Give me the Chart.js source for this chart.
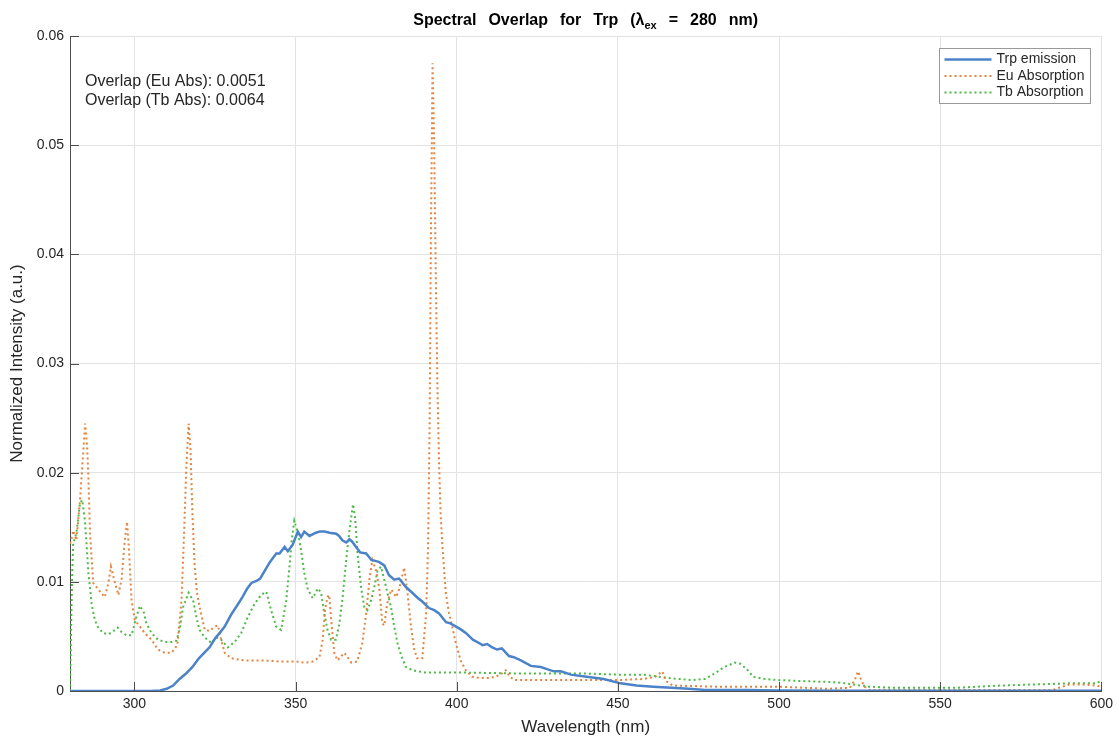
<!DOCTYPE html>
<html>
<head>
<meta charset="utf-8">
<title>Spectral Overlap for Trp</title>
<script src="https://cdn.jsdelivr.net/npm/chart.js@4.4.1/dist/chart.umd.min.js"></script>
<style>
  html, body { margin: 0; padding: 0; background: #fff; }
  #chart { display: block; }
</style>
</head>
<body>
<canvas id="chart" width="1118" height="740"></canvas>
<script>
// wavelength (nm) / normalized intensity
const trpWl = [280, 290, 300, 305, 308, 310, 312, 314, 316, 318, 320, 322, 323.3, 325, 326.4, 328, 330, 332, 333.5, 335, 336.3, 338, 339, 340, 342, 344, 345, 346.6, 347.6, 349.1, 350.7, 351.7, 352.7, 354.3, 356.3, 357.5, 359, 360.5, 362.6, 363.5, 364.5, 365.7, 366.7, 367.5, 369, 370, 371.9, 373.5, 375, 376, 377.5, 379, 380.6, 382.1, 384.3, 386.2, 388, 389.3, 391.4, 393, 394.5, 396.7, 398, 399.8, 401.5, 402.9, 405, 406.9, 408, 409.4, 411, 412.5, 414, 416.2, 417.7, 419.9, 423, 426.1, 428, 430.1, 432.3, 435.4, 440.3, 445.6, 450.8, 455.8, 461, 466.6, 472, 477, 490, 500, 520, 600];
const trpVals = [0, 0, 0, 0, 0.00005, 0.0002, 0.0005, 0.0011, 0.0016, 0.0022, 0.003, 0.0036, 0.004, 0.0048, 0.0053, 0.0059, 0.007, 0.0079, 0.0086, 0.0094, 0.0099, 0.0101, 0.0103, 0.0108, 0.0118, 0.0126, 0.0126, 0.0132, 0.0128, 0.0134, 0.0146, 0.0141, 0.0146, 0.0142, 0.0145, 0.0146, 0.0146, 0.0145, 0.0144, 0.0142, 0.0138, 0.0136, 0.0139, 0.0137, 0.0131, 0.0127, 0.0126, 0.012, 0.0119, 0.0118, 0.0115, 0.0106, 0.0102, 0.0103, 0.0095, 0.009, 0.0085, 0.0082, 0.0076, 0.0074, 0.0071, 0.0063, 0.0062, 0.0059, 0.0056, 0.0053, 0.0047, 0.0044, 0.0042, 0.0043, 0.004, 0.0038, 0.0039, 0.0032, 0.0031, 0.0028, 0.0023, 0.0022, 0.002, 0.0018, 0.0018, 0.0015, 0.0013, 0.0011, 0.0007, 0.0005, 0.0004, 0.0003, 0.0002, 0.0001, 0.0001, 0.00005, 0.00003, 0.00002];

const euWl = [280, 280.5, 281, 282, 283.1, 284.1, 284.7, 285.3, 285.7, 286.2, 287.2, 288.8, 290.8, 291.9, 292.7, 293.7, 295, 296, 297, 297.7, 298.3, 299.1, 300.1, 301.7, 303.2, 305.3, 307.3, 309.4, 311.5, 313.3, 314.6, 315.4, 316.1, 316.8, 317.4, 318, 318.7, 319.4, 320.2, 321.8, 323.3, 324.9, 325.9, 326.9, 328, 330, 334, 340, 345, 350, 353, 355.3, 357.4, 358.4, 359.1, 359.9, 360.4, 361.2, 362, 363, 365.1, 367.3, 369.1, 370.7, 371.9, 372.9, 373.8, 375, 376, 376.9, 377.5, 378.4, 379.7, 381.2, 382.1, 383.7, 384.6, 385.8, 386.8, 387.7, 389.3, 390.5, 391.1, 391.6, 392, 392.5, 393, 393.5, 394, 394.5, 395, 395.5, 396.1, 396.6, 397.6, 398.6, 399.7, 401.2, 402.8, 404.8, 406.9, 410, 412, 414, 415.2, 416.5, 418, 425, 440, 450, 458, 461.5, 463.8, 465, 467, 480, 500, 515, 522, 523.5, 524.5, 525.5, 526.5, 528, 585, 588, 590, 595, 598, 600];
const euVals = [0.0135, 0.014, 0.0147, 0.0138, 0.0175, 0.0218, 0.0245, 0.0225, 0.0196, 0.0145, 0.0099, 0.0093, 0.0086, 0.0099, 0.0114, 0.0102, 0.0088, 0.0102, 0.0138, 0.0155, 0.0129, 0.0083, 0.0065, 0.0059, 0.0053, 0.0047, 0.0038, 0.0035, 0.0035, 0.0042, 0.0083, 0.0145, 0.0205, 0.0245, 0.0221, 0.016, 0.0114, 0.009, 0.0077, 0.0056, 0.0055, 0.0059, 0.006, 0.0047, 0.0035, 0.003, 0.0028, 0.0028, 0.0027, 0.0027, 0.0026, 0.0027, 0.0031, 0.0047, 0.0074, 0.0086, 0.0088, 0.006, 0.0035, 0.0028, 0.0035, 0.0026, 0.0027, 0.0044, 0.0071, 0.0102, 0.012, 0.011, 0.0093, 0.0062, 0.006, 0.008, 0.0093, 0.0086, 0.0093, 0.0113, 0.0093, 0.0059, 0.0038, 0.003, 0.003, 0.0071, 0.0132, 0.025, 0.042, 0.0575, 0.05, 0.038, 0.028, 0.021, 0.0162, 0.0135, 0.011, 0.009, 0.0071, 0.0059, 0.0044, 0.0028, 0.0019, 0.0013, 0.0012, 0.0012, 0.0013, 0.0016, 0.0019, 0.0013, 0.001, 0.001, 0.001, 0.001, 0.0011, 0.0013, 0.0018, 0.0009, 0.0005, 0.0004, 0.0004, 0.0002, 0.0003, 0.001, 0.0018, 0.001, 0.0004, 0.0001, 0.0001, 0.0004, 0.0006, 0.0006, 0.0005, 0.0004];

const tbWl = [280, 280.3, 280.7, 281, 282, 283.1, 283.8, 284.6, 285.2, 285.7, 286.2, 286.7, 287.7, 288.8, 290.3, 291.9, 293.5, 294.8, 296, 297.5, 299.1, 300.6, 301.7, 302.9, 303.7, 305.3, 307.3, 309.4, 311.5, 313, 314, 315.1, 316.8, 318.2, 319.2, 320.2, 321.8, 323.9, 325.4, 326.9, 329, 331.1, 333.1, 335.2, 337.3, 339.3, 340.9, 342.4, 344, 345.5, 347.1, 348.1, 348.8, 349.6, 350.7, 351.7, 352.7, 353.8, 355.3, 356.9, 357.9, 358.9, 359.9, 361, 362.5, 363.6, 364.6, 365.6, 366.7, 367.8, 368.5, 369.2, 370.3, 371.3, 372.3, 373.4, 374.4, 375.4, 376.5, 377.5, 378.5, 379.6, 380.6, 381.6, 382.7, 384.2, 386.3, 390, 400, 420, 440, 450, 458, 465, 473, 477, 480, 483, 486.3, 488, 490, 492, 495.6, 500, 508, 518, 528, 535, 548, 555, 569, 590, 598, 600];
const tbVals = [0, 0.005, 0.011, 0.0135, 0.0145, 0.0172, 0.0175, 0.0157, 0.0132, 0.0108, 0.0095, 0.008, 0.0065, 0.0058, 0.0053, 0.0052, 0.0055, 0.0058, 0.0054, 0.0051, 0.0051, 0.0068, 0.0078, 0.0072, 0.0062, 0.0053, 0.0047, 0.0045, 0.0045, 0.0046, 0.0056, 0.0077, 0.009, 0.0083, 0.0068, 0.0056, 0.0049, 0.0044, 0.0049, 0.0047, 0.004, 0.0045, 0.0053, 0.0068, 0.008, 0.0088, 0.0091, 0.0074, 0.0059, 0.0056, 0.0083, 0.0114, 0.0138, 0.0156, 0.0145, 0.0129, 0.0108, 0.0093, 0.0085, 0.0094, 0.009, 0.0071, 0.0056, 0.0047, 0.0047, 0.0062, 0.0086, 0.0117, 0.0147, 0.0171, 0.0158, 0.0126, 0.0095, 0.0077, 0.0074, 0.0083, 0.0095, 0.011, 0.0114, 0.0102, 0.009, 0.0077, 0.0059, 0.0044, 0.0033, 0.0022, 0.0019, 0.0017, 0.0017, 0.0016, 0.0016, 0.0015, 0.0015, 0.0012, 0.001, 0.0011, 0.0016, 0.0022, 0.0026, 0.0025, 0.002, 0.0013, 0.0011, 0.001, 0.0009, 0.0008, 0.0004, 0.0003, 0.0003, 0.0003, 0.0005, 0.0007, 0.0007, 0.0009];

const seriesLabels = ['Trp emission', 'Eu Absorption', 'Tb Absorption'];
const overlapNotes = ['Overlap (Eu Abs): 0.0051', 'Overlap (Tb Abs): 0.0064'];
const yTicks = [0, 0.01, 0.02, 0.03, 0.04, 0.05, 0.06];

const textColor = '#262626';
const gridColor = '#e3e3e3';
const fontFamily = '"Liberation Sans", Arial, Helvetica, sans-serif';

function toPoints(xs, ys) {
    return xs.map((x, i) => ({ x: x, y: ys[i] }));
}

// title with subscript, MATLAB style wide word gaps
const titlePlugin = {
    id: 'titleWithSub',
    afterDraw(chart) {
        const c = chart.ctx;
        const area = chart.chartArea;
        const parts = [
            { t: 'Spectral', s: 16 }, { gap: 1 }, { t: 'Overlap', s: 16 }, { gap: 1 },
            { t: 'for', s: 16 }, { gap: 1 }, { t: 'Trp', s: 16 }, { gap: 1 },
            { t: '(\u03bb', s: 16 }, { t: 'ex', s: 11, sub: true }, { gap: 1 },
            { t: '=', s: 16 }, { gap: 1 }, { t: '280', s: 16 }, { gap: 1 }, { t: 'nm)', s: 16 }
        ];
        const gapW = 12;
        let total = 0;
        parts.forEach(p => {
            if (p.gap) { total += gapW; return; }
            c.font = 'bold ' + p.s + 'px ' + fontFamily;
            p.w = c.measureText(p.t).width;
            total += p.w;
        });
        let x = (area.left + area.right) / 2 - total / 2;
        const y = 21;
        c.save();
        c.fillStyle = '#000';
        c.textBaseline = 'middle';
        c.textAlign = 'left';
        parts.forEach(p => {
            if (p.gap) { x += gapW; return; }
            c.font = 'bold ' + p.s + 'px ' + fontFamily;
            c.fillText(p.t, x, p.sub ? y + 5 : y);
            x += p.w;
        });
        c.restore();
    }
};

// inward tick marks, legend box and overlap notes
const decorPlugin = {
    id: 'decor',
    afterDraw(chart) {
        const c = chart.ctx;
        const area = chart.chartArea;
        const xs = chart.scales.x;
        const ys = chart.scales.y;
        c.save();
        c.strokeStyle = '#4d4d4d';
        c.lineWidth = 1;
        xs.ticks.forEach(t => {
            const px = Math.round(xs.getPixelForValue(t.value)) + 0.5;
            c.beginPath();
            c.moveTo(px, area.bottom);
            c.lineTo(px, area.bottom - 9);
            c.stroke();
        });
        ys.ticks.forEach(t => {
            const py = Math.round(ys.getPixelForValue(t.value)) + 0.5;
            c.beginPath();
            c.moveTo(area.left, py);
            c.lineTo(area.left + 9, py);
            c.stroke();
        });

        // notes
        c.fillStyle = textColor;
        c.font = '16px ' + fontFamily;
        c.textBaseline = 'middle';
        c.textAlign = 'left';
        overlapNotes.forEach((s, i) => c.fillText(s, area.left + 15, 82 + i * 19));

        // legend
        const bx = 939.5, by = 48.5, bw = 151, bh = 55;
        c.fillStyle = '#fff';
        c.fillRect(bx, by, bw, bh);
        c.strokeStyle = '#9a9a9a';
        c.strokeRect(bx, by, bw, bh);
        c.font = '14px ' + fontFamily;
        chart.data.datasets.forEach((ds, i) => {
            const ly = by + 11 + i * 16.5;
            c.strokeStyle = ds.borderColor;
            c.lineWidth = ds.borderWidth;
            c.setLineDash(ds.borderDash || []);
            c.beginPath();
            c.moveTo(bx + 5, ly);
            c.lineTo(bx + 52, ly);
            c.stroke();
            c.setLineDash([]);
            c.fillStyle = textColor;
            c.fillText(ds.label, bx + 57, ly);
        });
        c.restore();
    }
};

const ctx = document.getElementById('chart').getContext('2d');
const myChart = new Chart(ctx, {
    type: 'line',
    data: {
        datasets: [
            {
                label: seriesLabels[0],
                data: toPoints(trpWl, trpVals),
                borderColor: '#4b82c8',
                borderWidth: 2.5,
                pointRadius: 0,
                tension: 0,
                order: 0
            },
            {
                label: seriesLabels[1],
                data: toPoints(euWl, euVals),
                borderColor: '#e3843f',
                borderWidth: 2,
                borderDash: [2, 3],
                pointRadius: 0,
                tension: 0,
                order: 1
            },
            {
                label: seriesLabels[2],
                data: toPoints(tbWl, tbVals),
                borderColor: '#4cbb45',
                borderWidth: 2,
                borderDash: [2, 3],
                pointRadius: 0,
                tension: 0,
                order: 2
            }
        ]
    },
    options: {
        responsive: false,
        animation: false,
        events: [],
        layout: { padding: { top: 36, right: 14, left: 0, bottom: 0 } },
        plugins: {
            legend: { display: false },
            title: { display: false },
            tooltip: { enabled: false }
        },
        scales: {
            x: {
                type: 'linear',
                min: 280,
                max: 600,
                ticks: {
                    stepSize: 50,
                    includeBounds: false,
                    padding: 5,
                    maxRotation: 0,
                    autoSkip: false,
                    color: textColor,
                    font: { size: 14, family: fontFamily }
                },
                grid: { color: gridColor, drawTicks: false },
                border: { color: '#4d4d4d' },
                title: {
                    display: true,
                    text: 'Wavelength (nm)',
                    color: textColor,
                    font: { size: 17, family: fontFamily },
                    padding: { top: 0, bottom: 2 }
                },
                afterFit: s => { s.height = 49; }
            },
            y: {
                min: 0,
                max: 0.06,
                afterBuildTicks: s => { s.ticks = yTicks.map(v => ({ value: v })); },
                ticks: {
                    padding: 6,
                    color: textColor,
                    font: { size: 14, family: fontFamily }
                },
                grid: { color: gridColor, drawTicks: false },
                border: { color: '#4d4d4d' },
                title: {
                    display: true,
                    text: 'Normalized Intensity (a.u.)',
                    color: textColor,
                    font: { size: 17, family: fontFamily },
                    padding: { top: 7, bottom: 0 }
                },
                afterFit: s => { s.width = 70; }
            }
        }
    },
    plugins: [titlePlugin, decorPlugin]
});
</script>
</body>
</html>
